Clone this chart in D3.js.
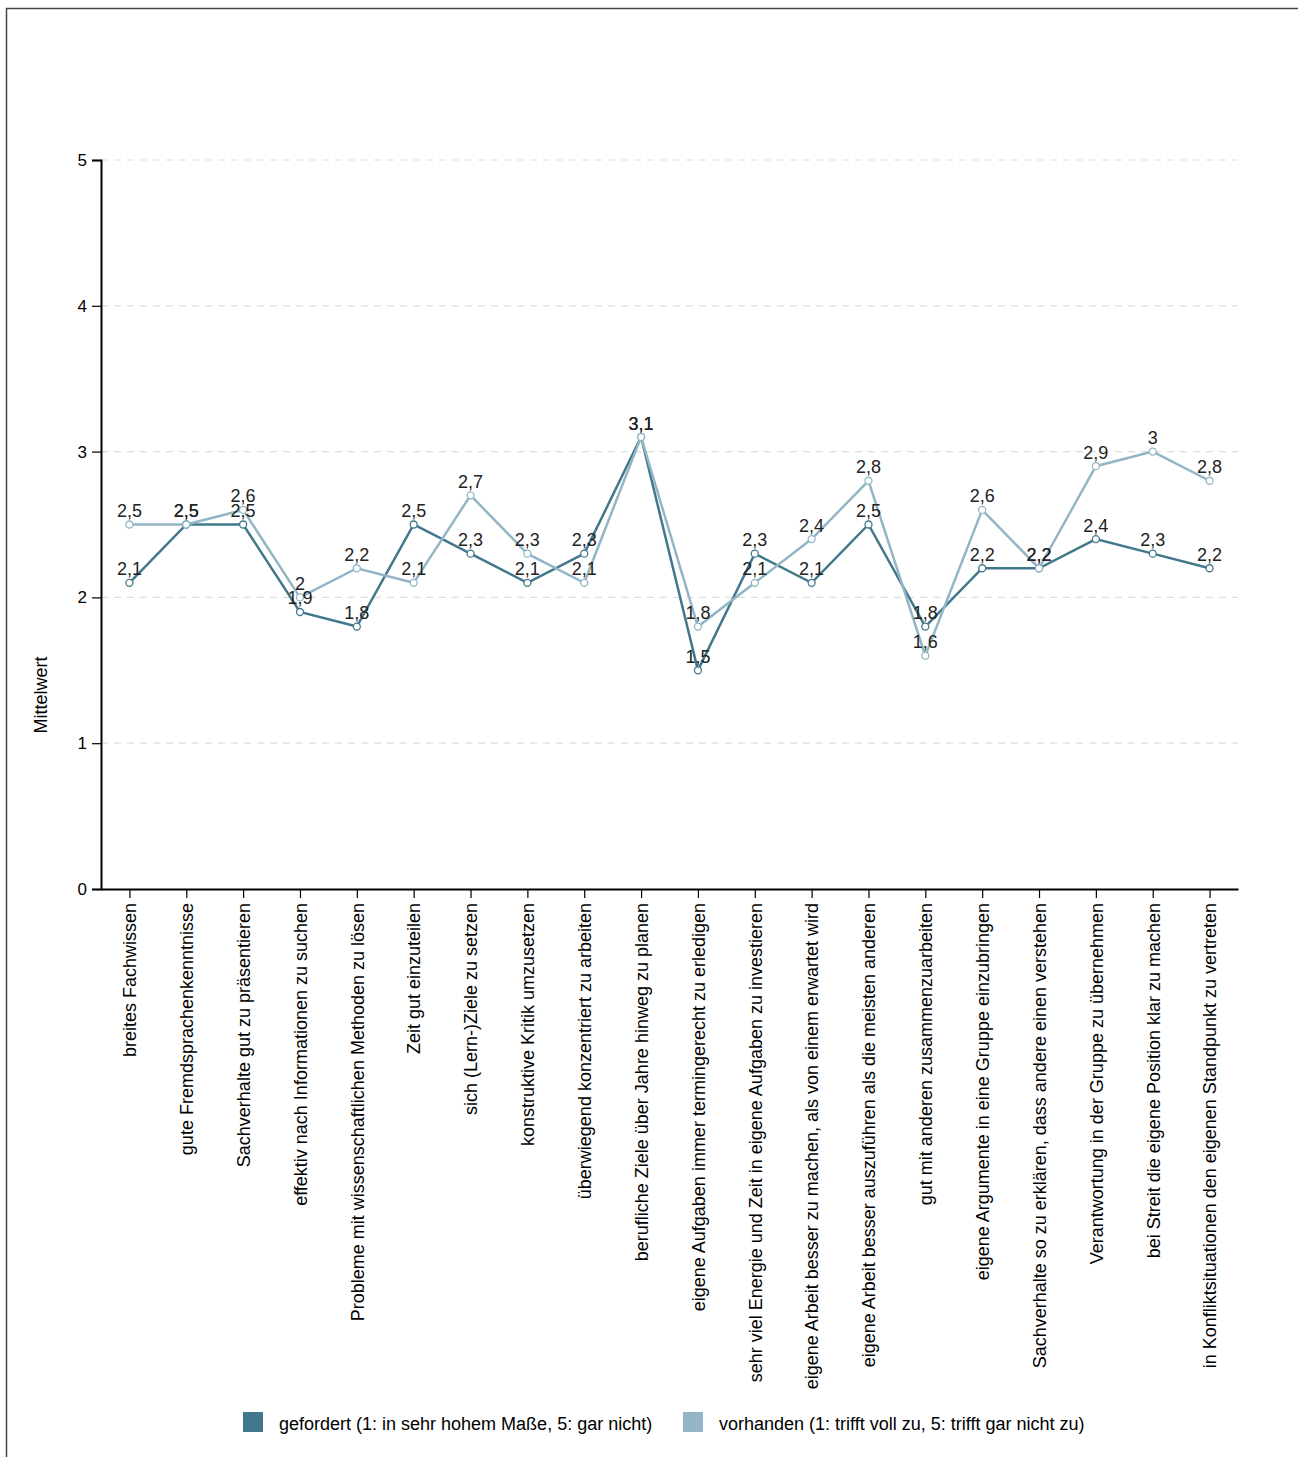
<!DOCTYPE html>
<html lang="de">
<head>
  <meta charset="UTF-8" />
  <title>Mittelwerte gefordert / vorhanden</title>
  <script src="https://d3js.org/d3.v7.min.js"></script>
  <style>
    body { margin: 0; background: #fff; font-family: "Liberation Sans", Arial, sans-serif; }
  </style>
</head>
<body>
  <svg id="chart" width="1298" height="1457"></svg>

  <script>
    // Kompetenzen (x-Achse)
    const categories = [
      "breites Fachwissen",
      "gute Fremdsprachenkenntnisse",
      "Sachverhalte gut zu präsentieren",
      "effektiv nach Informationen zu suchen",
      "Probleme mit wissenschaftlichen Methoden zu lösen",
      "Zeit gut einzuteilen",
      "sich (Lern-)Ziele zu setzen",
      "konstruktive Kritik umzusetzen",
      "überwiegend konzentriert zu arbeiten",
      "berufliche Ziele über Jahre hinweg zu planen",
      "eigene Aufgaben immer termingerecht zu erledigen",
      "sehr viel Energie und Zeit in eigene Aufgaben zu investieren",
      "eigene Arbeit besser zu machen, als von einem erwartet wird",
      "eigene Arbeit besser auszuführen als die meisten anderen",
      "gut mit anderen zusammenzuarbeiten",
      "eigene Argumente in eine Gruppe einzubringen",
      "Sachverhalte so zu erklären, dass andere einen verstehen",
      "Verantwortung in der Gruppe zu übernehmen",
      "bei Streit die eigene Position klar zu machen",
      "in Konfliktsituationen den eigenen Standpunkt zu vertreten"
    ];

    const gefordert = [2.1, 2.5, 2.5, 1.9, 1.8, 2.5, 2.3, 2.1, 2.3, 3.1, 1.5, 2.3, 2.1, 2.5, 1.8, 2.2, 2.2, 2.4, 2.3, 2.2];
    const vorhanden = [2.5, 2.5, 2.6, 2.0, 2.2, 2.1, 2.7, 2.3, 2.1, 3.1, 1.8, 2.1, 2.4, 2.8, 1.6, 2.6, 2.2, 2.9, 3.0, 2.8];

    const yTicks = [0, 1, 2, 3, 4, 5];
    const seriesNames = [
      "gefordert (1: in sehr hohem Maße, 5: gar nicht)",
      "vorhanden (1: trifft voll zu, 5: trifft gar nicht zu)"
    ];
    const seriesColors = ["#41788c", "#92b6c5"];

    const svg = d3.select("#chart");
    const margin = { top: 160, left: 101, right: 1238, bottom: 889 };
    const fontSize = 18;

    // Rahmen (nur oben und links sichtbar)
    svg.append("rect")
      .attr("x", 6.5).attr("y", 8.5)
      .attr("width", 1400).attr("height", 1600)
      .attr("fill", "none")
      .attr("stroke", "#444")
      .attr("stroke-width", 1.5);

    const x = d3.scalePoint()
      .domain(categories)
      .range([margin.left, margin.right])
      .padding(0.5);

    const y = d3.scaleLinear()
      .domain([0, 5])
      .range([margin.bottom, margin.top]);

    // Gitterlinien
    svg.append("g")
      .selectAll("line")
      .data(yTicks.filter(d => d > 0))
      .join("line")
      .attr("x1", margin.left)
      .attr("x2", margin.right)
      .attr("y1", d => y(d))
      .attr("y2", d => y(d))
      .attr("stroke", "#dedede")
      .attr("stroke-width", 1.2)
      .attr("stroke-dasharray", "7,6");

    // Y-Achse
    const yAxis = svg.append("g")
      .attr("transform", `translate(${margin.left}, 0)`)
      .call(d3.axisLeft(y).tickValues(yTicks).tickSize(9).tickPadding(5).tickFormat(d => d));
    yAxis.select(".domain").attr("stroke-width", 2);
    yAxis.selectAll(".tick line").attr("stroke-width", 1.2);
    yAxis.selectAll("text").attr("font-size", 17).attr("font-family", "Liberation Sans, Arial, sans-serif");

    // X-Achse
    const xAxis = svg.append("g")
      .attr("transform", `translate(0, ${margin.bottom})`)
      .call(d3.axisBottom(x).tickSize(9).tickSizeOuter(0));
    xAxis.select(".domain").attr("stroke-width", 2);
    xAxis.selectAll(".tick line").attr("stroke-width", 1.2);
    xAxis.selectAll("text")
      .attr("font-size", fontSize)
      .attr("font-family", "Liberation Sans, Arial, sans-serif")
      .attr("text-anchor", "end")
      .attr("transform", "rotate(-90)")
      .attr("x", -14)
      .attr("y", 0)
      .attr("dy", "0.35em");

    // Achsentitel
    svg.append("text")
      .attr("transform", "translate(47, 695) rotate(-90)")
      .attr("text-anchor", "middle")
      .attr("font-size", 18)
      .text("Mittelwert");

    const line = d3.line()
      .x((d, i) => x(categories[i]))
      .y(d => y(d));

    [gefordert, vorhanden].forEach((values, s) => {
      svg.append("path")
        .datum(values)
        .attr("fill", "none")
        .attr("stroke", seriesColors[s])
        .attr("stroke-width", 2.5)
        .attr("d", line);

      svg.append("g")
        .selectAll("circle")
        .data(values)
        .join("circle")
        .attr("cx", (d, i) => x(categories[i]))
        .attr("cy", d => y(d))
        .attr("r", 3.5)
        .attr("fill", "#fff")
        .attr("stroke", seriesColors[s])
        .attr("stroke-width", 1.3);
    });

    // Werte-Beschriftungen
    [gefordert, vorhanden].forEach(values => {
      svg.append("g")
        .selectAll("text")
        .data(values)
        .join("text")
        .attr("x", (d, i) => x(categories[i]))
        .attr("y", d => y(d) - 7.5)
        .attr("text-anchor", "middle")
        .attr("font-size", fontSize)
        .attr("fill", "#222")
        .text(d => String(d).replace(".", ","));
    });

    // Legende
    const legendX = [243, 683];
    const legend = svg.append("g");
    seriesNames.forEach((name, i) => {
      legend.append("rect")
        .attr("x", legendX[i]).attr("y", 1412)
        .attr("width", 20).attr("height", 20)
        .attr("fill", seriesColors[i]);
      legend.append("text")
        .attr("x", legendX[i] + 36).attr("y", 1430)
        .attr("font-size", fontSize)
        .text(name);
    });
  </script>
</body>
</html>
